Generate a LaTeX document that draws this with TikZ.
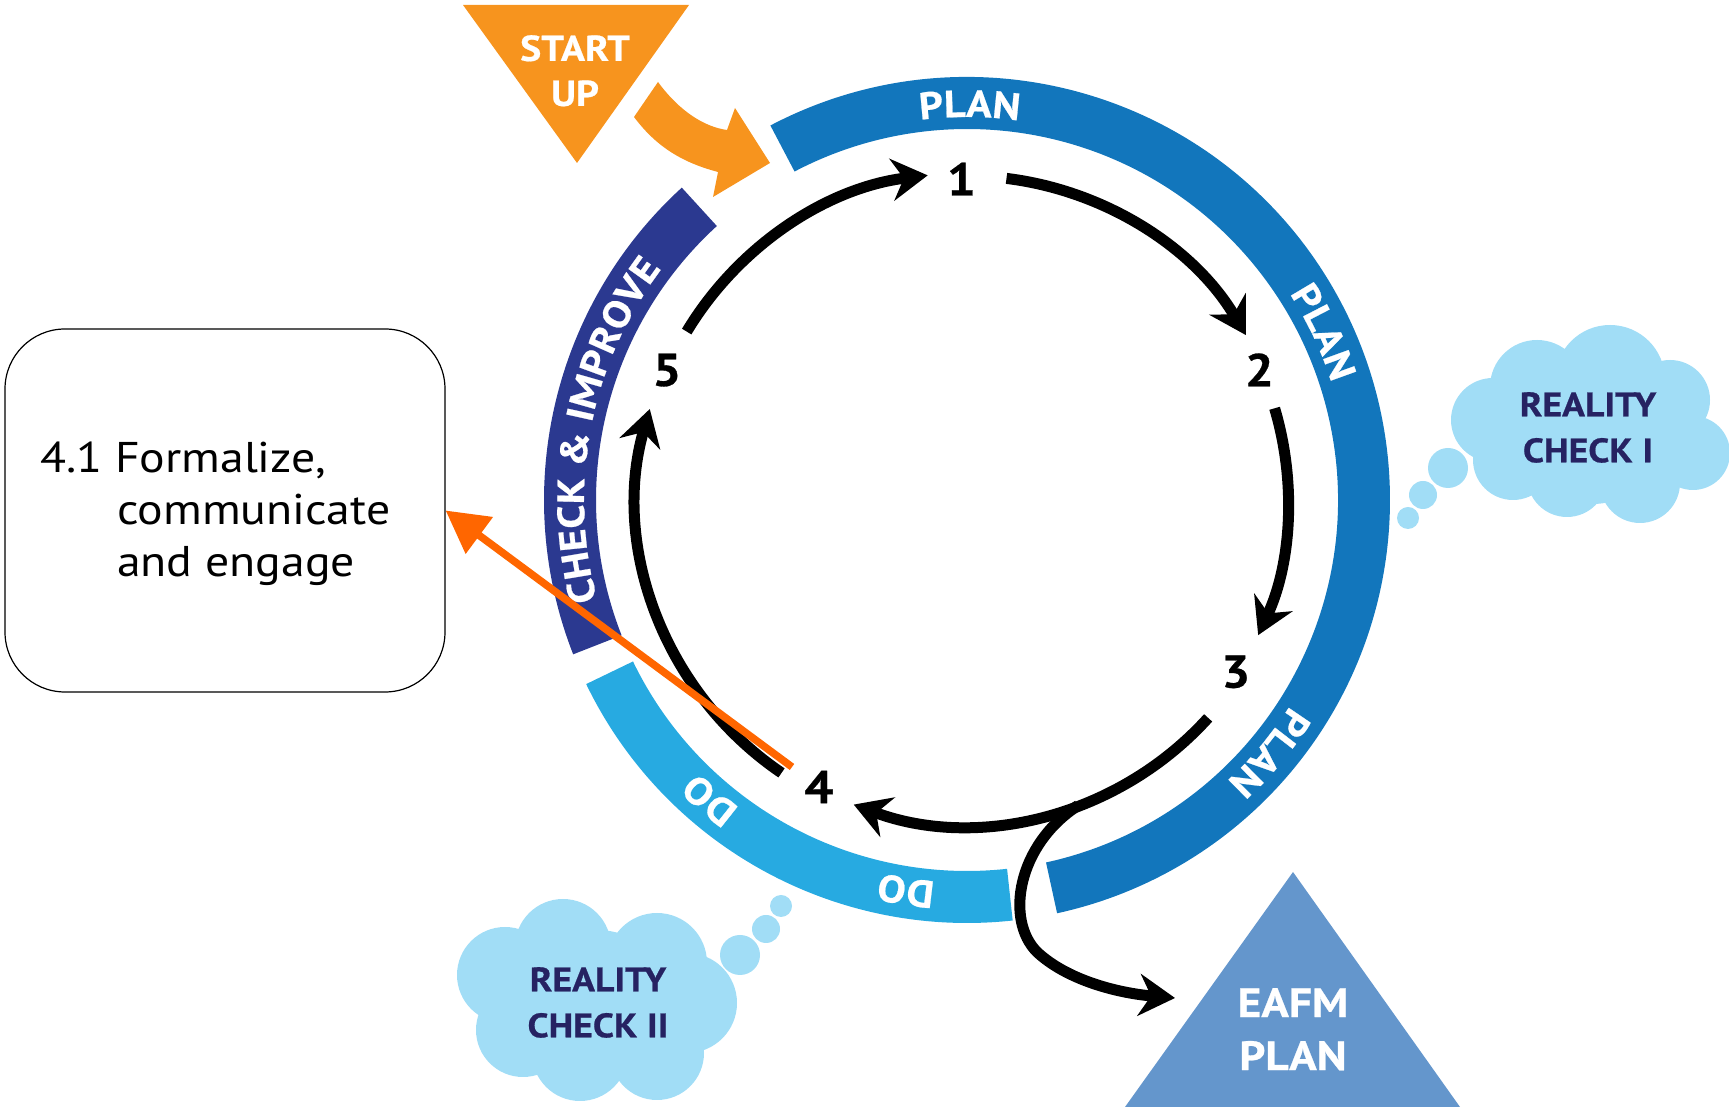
\documentclass[tikz,border=0pt]{standalone}
\usepackage{fontspec}
\setmainfont{PT Sans}[FakeStretch=1.11,BoldFeatures={FakeStretch=1.11,FakeBold=0.6}]
\usetikzlibrary{arrows.meta,decorations.text}

\definecolor{planblue}{RGB}{18,118,188}
\definecolor{checknavy}{RGB}{43,57,144}
\definecolor{docyan}{RGB}{39,170,225}
\definecolor{startorange}{RGB}{247,148,30}
\definecolor{eafmblue}{RGB}{100,150,204}
\definecolor{cloudblue}{RGB}{161,221,246}
\definecolor{cloudtext}{RGB}{38,34,98}
\definecolor{lineorange}{RGB}{255,102,0}

\newcommand\bandfont{\bfseries\fontsize{38}{40}\selectfont\color{white}}
% ring segment: from, to, colour
\newcommand\RingBand[3]{%
    \fill[#3] (#1:423) arc[start angle=#1, end angle=#2, radius=423]
        -- (#2:371) arc[start angle=#2, end angle=#1, radius=371] -- cycle;
}
% label on the ring, read clockwise
\newcommand\RingLabel[3]{%
    \path[decorate,decoration={text along path,text align=center,text={|\bandfont|#2}}]
        ({#1+#3}:383) arc[start angle={#1+#3}, end angle={#1-#3}, radius=383];
}

\tikzset{
    cyc/.style={line width=11pt,-{Stealth[length=36pt,width=42pt,inset=12pt]}},
    num/.style={font=\bfseries\fontsize{46}{46}\selectfont,inner sep=0pt},
    tritext/.style={white,font=\bfseries\fontsize{36}{45}\selectfont,align=center,inner sep=0pt},
    cloudlabel/.style={cloudtext,font=\bfseries\fontsize{34}{46}\selectfont,align=center,inner sep=0pt},
}

\begin{document}
\begin{tikzpicture}[x=1pt,y=1pt]
    \useasboundingbox (0,0) rectangle (1729,1110);
    % start up
    \fill[startorange] (463,1105) -- (689,1105) -- (577,947) -- cycle;
    \node[tritext,anchor=north] (start) at (575,1075) {START\\UP};
    \fill[startorange] (658,1028) .. controls (680,998) and (705,983) .. (727,980)
        -- (735,1002) -- (770,947) -- (713,913) -- (718,938)
        .. controls (680,948) and (655,965) .. (634,993) -- cycle;

    \begin{scope}[shift={(967,610)}]
        \RingBand{117.7}{-77.7}{planblue}
        \RingBand{-83.8}{-154.2}{docyan}
        \RingBand{201.4}{132.4}{checknavy}
        \RingLabel{89.6}{PLAN}{20}
        \RingLabel{25.2}{PLAN}{20}
        \RingLabel{-39.9}{PLAN}{20}
        \RingLabel{-98.9}{DO}{15}
        \RingLabel{-130.6}{DO}{15}
        \RingLabel{169}{CHECK {\&} IMPROVE}{40}
        % steps
        \node[num] (n1) at (91:321) {1};
        \node[num] (n2) at (24:320) {2};
        \node[num] (n3) at (-32.6:319) {3};
        \node[num] (n4) at (-117.3:323) {4};
        \node[num] (n5) at (156.6:327) {5};
        \coordinate (a51) at (149:327);
        \coordinate (a12) at (83:324);
        \coordinate (a23) at (16.6:321);
        \coordinate (a34) at (-42.1:325);
        \coordinate (a45) at (-124.2:330);
        \draw[cyc] (a51) arc[start angle=149, end angle=96.9, radius=327];
        \draw[cyc] (a12) arc[start angle=83, end angle=30.6, radius=324];
        \draw[cyc] (a23) arc[start angle=16.6, end angle=-24.9, radius=321];
        \draw[cyc] (a34) arc[start angle=-42.1, end angle=-110.4, radius=325];
        \draw[cyc] (a45) arc[start angle=-124.2, end angle=-196, radius=330];
        % out to the plan
        \coordinate (fork) at (-70:325);
        \coordinate (eafmin) at (208,-498);
        \draw[cyc] (fork) .. controls (50,-345) and (38,-420) .. (70,-452)
            .. controls (100,-480) and (150,-493) .. (eafmin);
    \end{scope}

    % eafm plan
    \fill[eafmblue] (1293,238) -- (1460,3) -- (1125,3) -- cycle;
    \node[tritext,anchor=north,font=\bfseries\fontsize{41}{53}\selectfont] (eafm) at (1293,122) {EAFM\\PLAN};

    % reality check I
    \fill[cloudblue] (1610,730) circle[radius=55] (1537,723) circle[radius=47]
        (1493,690) circle[radius=42] (1670,710) circle[radius=40]
        (1693,657) circle[radius=37] (1640,627) circle[radius=40]
        (1567,633) circle[radius=40] (1513,650) circle[radius=40]
        (1593,673) circle[radius=67]
        (1448,642) circle[radius=20] (1423,615) circle[radius=14] (1408,592) circle[radius=11];
    \node[cloudlabel,anchor=north] (rc1) at (1588,718) {REALITY\\CHECK I};

    % reality check II
    \fill[cloudblue] (505,135) circle[radius=48] (563,163) circle[radius=48]
        (657,147) circle[radius=50] (687,107) circle[radius=50]
        (657,57) circle[radius=47] (580,57) circle[radius=48]
        (523,80) circle[radius=47] (597,103) circle[radius=77]
        (740,155) circle[radius=20] (766,181) circle[radius=14] (781,204) circle[radius=11];
    \node[cloudlabel,anchor=north] (rc2) at (598,143) {REALITY\\CHECK II};

    % step 4.1
    \node[draw,line width=1.2pt,rounded corners=60pt,minimum width=440pt,minimum height=363pt,inner sep=0pt] (formal) at (225,599.5) {};
    \node[anchor=north west,align=left,inner sep=0pt,font=\fontsize{43}{52}\selectfont] (formaltext) at (40,668)
        {4.1 Formalize,\\\hspace*{77pt}communicate\\\hspace*{77pt}and engage};
    \coordinate (o4) at (792,343);
    \draw[lineorange,line width=7.5pt,-{Triangle[length=42pt,width=44pt]}] (o4) -- (formal.east);
\end{tikzpicture}
\end{document}
